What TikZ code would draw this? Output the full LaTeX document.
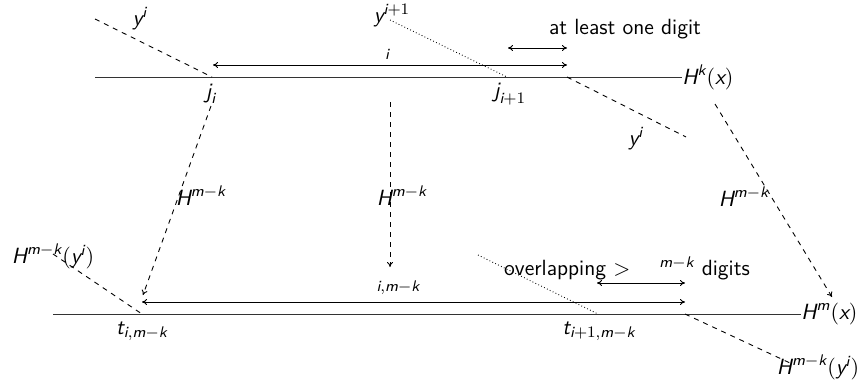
\documentclass[tikz,border=0pt]{standalone}
\usepackage{fontspec}
\usepackage{amsmath}
\renewcommand{\familydefault}{\sfdefault}
\newcommand{\vi}[1]{\textit{#1}}
\usetikzlibrary{arrows.meta}
\begin{document}
\begin{tikzpicture}[x=0.5pt,y=-0.5pt,
  every node/.style={font=\fontsize{11}{13}\selectfont, inner sep=1pt},
  ln/.style={line width=0.5pt, black!80},
  dsh/.style={line width=0.45pt, dash pattern=on 2.5pt off 2.5pt},
  dtt/.style={line width=0.45pt, dash pattern=on 0.4pt off 1.2pt},
  meas/.style={line width=0.5pt, {To[length=2.5pt,width=3pt]}-{To[length=2.5pt,width=3pt]}},
  darr/.style={dsh, -{To[length=2.5pt,width=3pt]}}]
\useasboundingbox (0,0) rectangle (865,386);
% top line
\coordinate (TL) at (95,77);
\node[anchor=west, inner sep=0pt] (Hk) at (682,77) {$\vi{H}^{\vi{k}}(\vi{x})$};
\draw[ln] (TL) -- (Hk.west);
\coordinate (ji) at (212,77);
\coordinate (ji1) at (507,77);
\coordinate (q) at (567,77);
\node (lji) at (211,94) {$\vi{j}_{\vi{i}}$};
\node (lji1) at (510,94) {$\vi{j}_{\vi{i}+1}$};
% y^i dashed
\coordinate (ya) at (95,19);
\node (lyi) at (140,19) {$\vi{y}^{\vi{i}}$};
\draw[dsh] (ya) -- (ji);
% y^{i+1} dotted
\node (lyi1) at (392,16) {$\vi{y}^{\vi{i}+1}$};
\coordinate (yb) at (390,20);
\draw[dtt] (yb) -- (ji1);
% dashed after q
\coordinate (yc) at (686,137);
\draw[dsh] (q) -- (yc);
\node (lyi2) at (636,139) {$\vi{y}^{\vi{i}}$};
% measure arrows top
\coordinate (m1a) at (213,65);
\coordinate (m1b) at (567,65);
\draw[meas] (m1a) -- (m1b);
\node (li) at (387,54) {$\scriptstyle\vi{i}$};
\coordinate (m2a) at (508,48);
\coordinate (m2b) at (567,48);
\draw[meas] (m2a) -- (m2b);
\node (lat) at (625,29) {at least one digit};
% bottom line
\coordinate (BL) at (53,314);
\node[anchor=west, inner sep=0pt] (Hm) at (801,314) {$\vi{H}^{\vi{m}}(\vi{x})$};
\draw[ln] (BL) -- (Hm.west);
\coordinate (t1) at (142,314);
\coordinate (t2) at (598,314);
\coordinate (r) at (685,314);
\node (lt1) at (142,331) {$\vi{t}_{\vi{i},\vi{m}-\vi{k}}$};
\node (lt2) at (599,331) {$\vi{t}_{\vi{i}+1,\vi{m}-\vi{k}}$};
% bottom measures
\coordinate (m3a) at (142,302);
\coordinate (m3b) at (685,302);
\draw[meas] (m3a) -- (m3b);
\node (lim) at (398,288) {$\scriptstyle\vi{i},\vi{m}-\vi{k}$};
\coordinate (m4a) at (597,283);
\coordinate (m4b) at (685,283);
\draw[meas] (m4a) -- (m4b);
\node (lov) at (627,268) {overlapping $>$ \quad$^{\vi{m}-\vi{k}}$ digits};
% dotted bottom
\coordinate (dd) at (478,255);
\draw[dtt] (dd) -- (t2);
% left dashed H^{m-k}(y^i)
\node (lHy1) at (53,256) {$\vi{H}^{\vi{m}-\vi{k}}(\vi{y}^{\vi{i}})$};
\coordinate (ld) at (53,254);
\draw[dsh] (ld) -- (t1);
% right bottom dashed
\node (lHy2) at (818,367) {$\vi{H}^{\vi{m}-\vi{k}}(\vi{y}^{\vi{i}})$};
\coordinate (rd) at (790,363);
\draw[dsh] (r) -- (rd);
% vertical mappings
\coordinate (s1) at (211,106);
\coordinate (e1) at (143,295);
\draw[darr] (s1) -- (e1);
\node (lH1) at (201,196) {$\vi{H}^{\vi{m}-\vi{k}}$};
\coordinate (s2) at (390,102);
\coordinate (e2) at (390,267);
\draw[darr] (s2) -- (e2);
\node (lH2) at (402,196) {$\vi{H}^{\vi{m}-\vi{k}}$};
\coordinate (s3) at (715,104);
\coordinate (e3) at (832,297);
\draw[darr] (s3) -- (e3);
\node (lH3) at (744,197) {$\vi{H}^{\vi{m}-\vi{k}}$};
\end{tikzpicture}
\end{document}
